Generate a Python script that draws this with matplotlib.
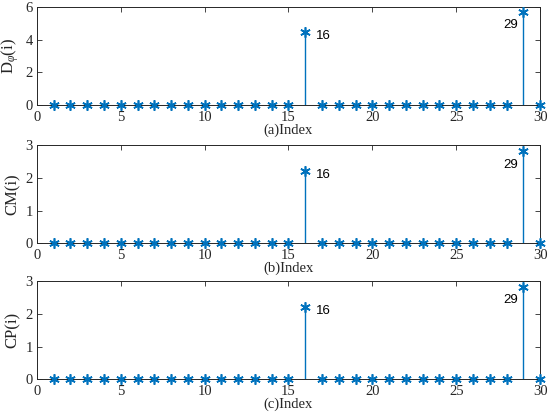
import matplotlib
matplotlib.use("Agg")
import matplotlib.pyplot as plt
import numpy as np

index = list(range(1, 31))
d_phi = [0]*30; d_phi[15] = 4.48; d_phi[28] = 5.68
cm = [0]*30; cm[15] = 2.22; cm[28] = 2.81
cp = [0]*30; cp[15] = 2.23; cp[28] = 2.82

ylabels = [r'D$_{\varphi}$(i)', 'CM(i)', 'CP(i)']
xlabels = ['(a)Index', '(b)Index', '(c)Index']
ylims = [6, 3, 3]
yticks = [[0, 2, 4, 6], [0, 1, 2, 3], [0, 1, 2, 3]]

color = '#0072BD'
plt.rcParams['font.family'] = ['Liberation Serif']
plt.rcParams['mathtext.fontset'] = 'custom'
plt.rcParams['mathtext.rm'] = 'Liberation Serif'
plt.rcParams['mathtext.it'] = 'Liberation Serif:italic'

fig = plt.figure(figsize=(5.5, 4.15), dpi=100)
bottoms = [0.747, 0.414, 0.086]
h = 0.236
for k, (vals, yl, xl, ym, yt, b) in enumerate(zip([d_phi, cm, cp], ylabels, xlabels, ylims, yticks, bottoms)):
    ax = fig.add_axes([0.067, b, 0.915, h])
    for xi, v in zip(index, vals):
        if v != 0:
            ax.plot([xi, xi], [0, v], color=color, lw=1.0, zorder=2)
    ax.plot(index, vals, linestyle='none', marker=(6, 2, 0), markersize=7.5,
            markeredgecolor=color, markeredgewidth=1.2, color=color, zorder=3, clip_on=False)
    ax.set_xlim(0, 30)
    ax.set_ylim(0, ym)
    ax.set_xticks([0, 5, 10, 15, 20, 25, 30])
    ax.set_yticks(yt)
    ax.tick_params(direction='in', top=True, right=True, length=3.5, width=0.6,
                   labelsize=10.5, colors='#262626', pad=3)
    ax.tick_params(axis='x', pad=4)
    for s in ax.spines.values():
        s.set_linewidth(0.7)
        s.set_color('#262626')
    ax.set_xlabel(xl, fontsize=10.5, labelpad=0, color='#262626')
    ax.set_ylabel(yl, fontsize=12, labelpad=3, color='#262626')
    ax.annotate('16', xy=(16, vals[15]), xytext=(7.5, -3), textcoords='offset points',
                ha='left', va='center', fontsize=9.5, family='Liberation Sans')
    ax.annotate('29', xy=(29, vals[28]), xytext=(-3.5, -9.5), textcoords='offset points',
                ha='right', va='center', fontsize=9.5, family='Liberation Sans')

fig.savefig('out.png', dpi=100)
